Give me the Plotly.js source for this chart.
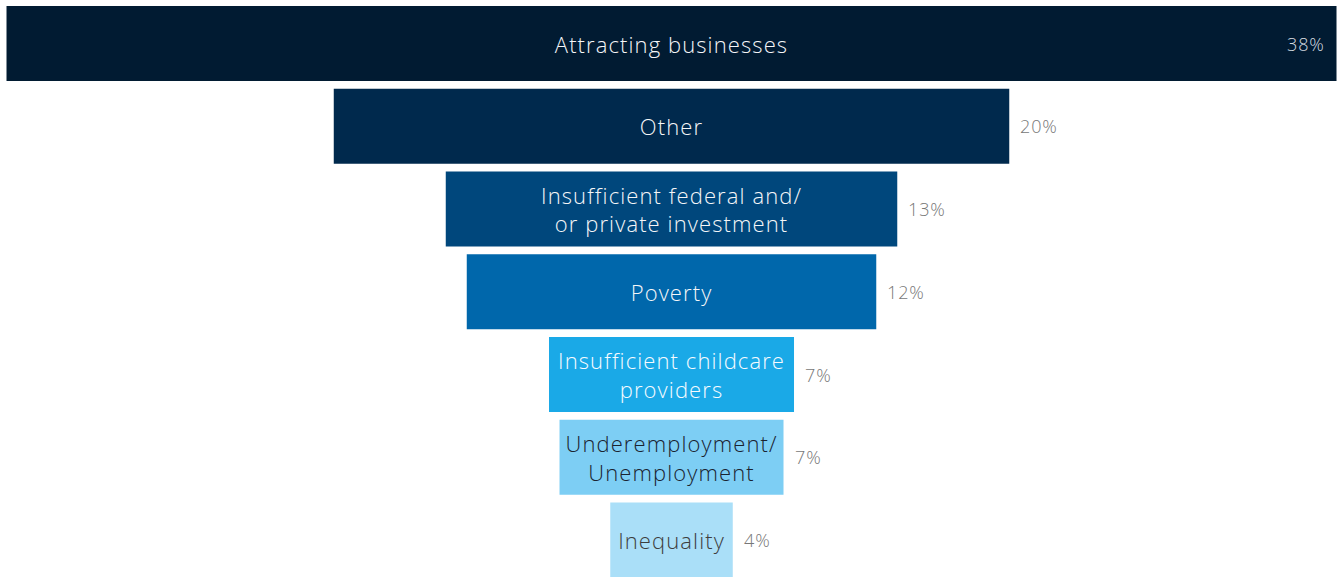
<!DOCTYPE html>
<html>
<head>
<meta charset="utf-8">
<script src="https://cdn.plot.ly/plotly-3.0.1.min.js"></script>
<style>
  html, body { margin: 0; padding: 0; background: #ffffff; }
  #chart { width: 1337px; height: 577px; }
  text.bartext { letter-spacing: 1.1px; }
  text.annotation-text { letter-spacing: 0.9px; }
</style>
</head>
<body>
<div id="chart"></div>
<script>
// Data
var categories = [
  "Attracting businesses",
  "Other",
  "Insufficient federal and/or private investment",
  "Poverty",
  "Insufficient childcare providers",
  "Underemployment/Unemployment",
  "Inequality"
];
var barLabels = [
  "Attracting businesses",
  "Other",
  "Insufficient federal and/<br>or private investment",
  "Poverty",
  "Insufficient childcare<br>providers",
  "Underemployment/<br>Unemployment",
  "Inequality"
];
var values = [38.0, 19.3, 12.9, 11.7, 7.0, 6.4, 3.5];
var pctLabels = ["38%", "20%", "13%", "12%", "7%", "7%", "4%"];
var barColors = ["#011b32", "#00294d", "#00477c", "#0067ab", "#1aa9e7", "#7dcef4", "#aadff8"];
var labelColors = ["#f5f6f8", "#f5f6f8", "#f5f6f8", "#f5f6f8", "#f6fbff", "#1a2330", "#3d3d3d"];

var FONT = "'Open Sans', sans-serif";

var trace = {
  type: "bar",
  orientation: "h",
  y: categories,
  x: values,
  base: values.map(function (v) { return -v / 2; }),
  text: barLabels,
  textposition: "inside",
  insidetextanchor: "middle",
  textangle: 0,
  constraintext: "none",
  textfont: { family: FONT, size: 22, weight: 300, color: labelColors },
  marker: { color: barColors, line: { width: 0 } },
  hoverinfo: "skip",
  cliponaxis: false
};

var annotations = values.map(function (v, i) {
  var first = i === 0;
  return {
    x: v / 2,
    y: categories[i],
    xref: "x",
    yref: "y",
    text: pctLabels[i],
    showarrow: false,
    xanchor: first ? "right" : "left",
    yanchor: "middle",
    xshift: first ? -10 : 9,
    font: { family: FONT, size: 18, weight: 300, color: first ? "#d6dbe0" : "#777777" }
  };
});

var layout = {
  width: 1337,
  height: 577,
  margin: { l: 0, r: 0, t: 0, b: 0, pad: 0 },
  paper_bgcolor: "#ffffff",
  plot_bgcolor: "#ffffff",
  showlegend: false,
  bargap: 0.094,
  xaxis: {
    range: [-19.186, 19.014],
    visible: false,
    fixedrange: true
  },
  yaxis: {
    type: "category",
    range: [6.447, -0.526],
    visible: false,
    fixedrange: true
  },
  annotations: annotations
};

Plotly.newPlot("chart", [trace], layout, { displayModeBar: false, staticPlot: true });
</script>
</body>
</html>
